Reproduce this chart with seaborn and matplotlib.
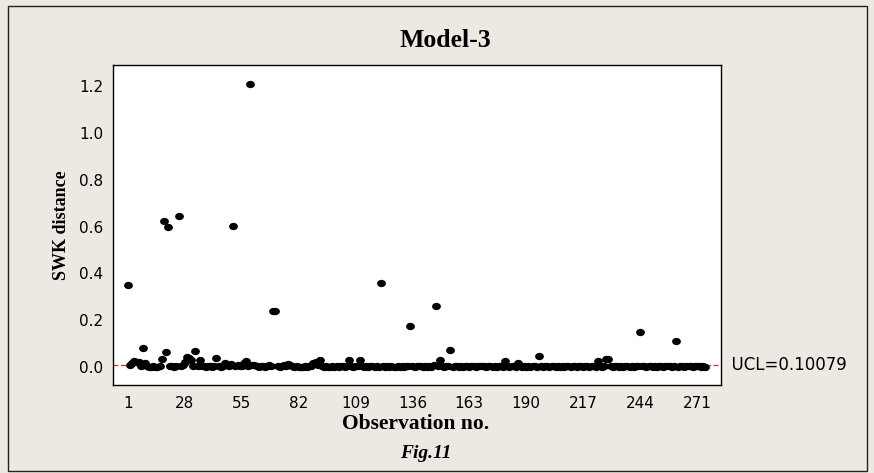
import numpy as np
import pandas as pd
import matplotlib
matplotlib.use("Agg")
import matplotlib.pyplot as plt
from matplotlib.path import Path
from matplotlib.patches import Rectangle
import seaborn as sns

# SWK distance of each observation (Model-3)
swk = [
    0.352, 0.010, 0.015, 0.025, 0.020, 0.022, 0.005, 0.082, 0.015, 0.003,
    0.002, 0.001, 0.003, 0.002, 0.001, 0.004, 0.035, 0.623, 0.062, 0.597,
    0.005, 0.003, 0.002, 0.003, 0.644, 0.004, 0.010, 0.020, 0.042, 0.040,
    0.028, 0.005, 0.067, 0.004, 0.030, 0.003, 0.006, 0.002, 0.004, 0.003,
    0.002, 0.006, 0.040, 0.003, 0.002, 0.004, 0.015, 0.010, 0.005, 0.012,
    0.601, 0.006, 0.010, 0.004, 0.005, 0.015, 0.025, 0.005, 1.209, 0.008,
    0.010, 0.003, 0.002, 0.006, 0.004, 0.002, 0.003, 0.010, 0.004, 0.238,
    0.238, 0.003, 0.002, 0.004, 0.010, 0.003, 0.012, 0.008, 0.004, 0.002,
    0.003, 0.002, 0.001, 0.002, 0.003, 0.002, 0.004, 0.006, 0.015, 0.020,
    0.008, 0.030, 0.004, 0.002, 0.003, 0.001, 0.002, 0.003, 0.002, 0.004,
    0.002, 0.003, 0.005, 0.002, 0.004, 0.030, 0.003, 0.002, 0.004, 0.003,
    0.030, 0.004, 0.002, 0.003, 0.002, 0.005, 0.003, 0.002, 0.004, 0.002,
    0.358, 0.003, 0.002, 0.004, 0.002, 0.003, 0.001, 0.002, 0.003, 0.002,
    0.004, 0.002, 0.003, 0.005, 0.175, 0.003, 0.002, 0.006, 0.004, 0.003,
    0.002, 0.003, 0.002, 0.004, 0.002, 0.008, 0.259, 0.004, 0.031, 0.003,
    0.002, 0.004, 0.003, 0.071, 0.002, 0.003, 0.005, 0.002, 0.003, 0.002,
    0.004, 0.003, 0.002, 0.003, 0.004, 0.002, 0.005, 0.003, 0.006, 0.004,
    0.002, 0.003, 0.004, 0.002, 0.003, 0.002, 0.004, 0.003, 0.002, 0.027,
    0.003, 0.002, 0.004, 0.003, 0.002, 0.015, 0.003, 0.002, 0.004, 0.002,
    0.003, 0.002, 0.004, 0.003, 0.002, 0.047, 0.003, 0.002, 0.004, 0.003,
    0.002, 0.005, 0.003, 0.002, 0.004, 0.002, 0.003, 0.002, 0.004, 0.003,
    0.002, 0.004, 0.003, 0.002, 0.005, 0.003, 0.002, 0.004, 0.003, 0.002,
    0.004, 0.003, 0.002, 0.027, 0.003, 0.002, 0.004, 0.036, 0.033, 0.003,
    0.002, 0.004, 0.003, 0.002, 0.003, 0.002, 0.004, 0.003, 0.002, 0.003,
    0.002, 0.004, 0.006, 0.150, 0.005, 0.003, 0.002, 0.004, 0.003, 0.002,
    0.003, 0.002, 0.004, 0.003, 0.002, 0.004, 0.005, 0.003, 0.002, 0.003,
    0.109, 0.002, 0.004, 0.003, 0.002, 0.004, 0.003, 0.006, 0.002, 0.004,
    0.003, 0.005, 0.002, 0.003, 0.002,
]
observation = list(range(1, len(swk) + 1))

ucl_line = 0.010079
ucl_text = "UCL=0.10079"

x_ticks = [1, 28, 55, 82, 109, 136, 163, 190, 217, 244, 271]
y_ticks = [0.0, 0.2, 0.4, 0.6, 0.8, 1.0, 1.2]

title = "Model-3"
x_label = "Observation no."
y_label = "SWK distance"
caption = "Fig.11"

df = pd.DataFrame({"obs": observation, "swk": swk})

sns.set_style("white")
plt.rcParams["font.family"] = ["DejaVu Sans"]
plt.rcParams["text.color"] = "black"

W, H = 874, 473
bg = "#ede9e2"
fig = plt.figure(figsize=(W / 100, H / 100), dpi=100, facecolor=bg)

left, right, top, bottom = 113, 721, 65.5, 385
ax = fig.add_axes([left / W, 1 - bottom / H, (right - left) / W, (bottom - top) / H])
ax.set_facecolor("white")

# slightly wide elliptical dots
circ = Path.unit_circle()
dot = Path(circ.vertices * np.array([1.2, 1.0]), circ.codes)

ax.axhline(ucl_line, color="#c8322d", lw=0.9, ls=(0, (4, 2)), zorder=1)
sns.scatterplot(data=df, x="obs", y="swk", ax=ax, color="black",
                marker=dot, s=40, linewidth=0, zorder=3, legend=False)

ax.set_xlim(-6.1, 282.4)
ax.set_ylim(-0.077, 1.288)
ax.set_xticks(x_ticks)
ax.set_xticklabels([str(t) for t in x_ticks])
ax.set_yticks(y_ticks)
ax.set_yticklabels([f"{t:.1f}" for t in y_ticks])
ax.tick_params(axis="both", direction="out", length=5, width=1, color="black",
               labelsize=11, labelcolor="black", pad=2)
ax.tick_params(axis="x", pad=3)
for s in ax.spines.values():
    s.set_color("black")
    s.set_linewidth(1.0)
ax.set_xlabel("")
ax.set_ylabel("")

ax.text(1.0, ucl_line, "  " + ucl_text, transform=ax.get_yaxis_transform(),
        ha="left", va="center", fontsize=12, color="black")

serif = ["Liberation Serif", "DejaVu Serif"]
fig.text(445 / W, 1 - 40.5 / H, title, ha="center", va="center", color="black",
         fontsize=18.5, fontweight="bold", family=serif)
fig.text(416 / W, 1 - 424 / H, x_label, ha="center", va="center", color="black",
         fontsize=15.5, fontweight="bold", family=serif)
fig.text(62 / W, 1 - 225 / H, y_label, ha="center", va="center", rotation=90,
         color="black", fontsize=13, fontweight="bold", family=serif)
fig.text(426 / W, 1 - 453 / H, caption, ha="center", va="center", color="black",
         fontsize=14, fontweight="bold", style="italic", family=serif)

fig.patches.append(Rectangle((7.5 / W, 2.5 / H), (867 - 7.5) / W, (467 - 2.5) / H,
                             transform=fig.transFigure, fill=False,
                             edgecolor="#222222", linewidth=1.0))

fig.savefig("out.png", dpi=100, facecolor=bg)
